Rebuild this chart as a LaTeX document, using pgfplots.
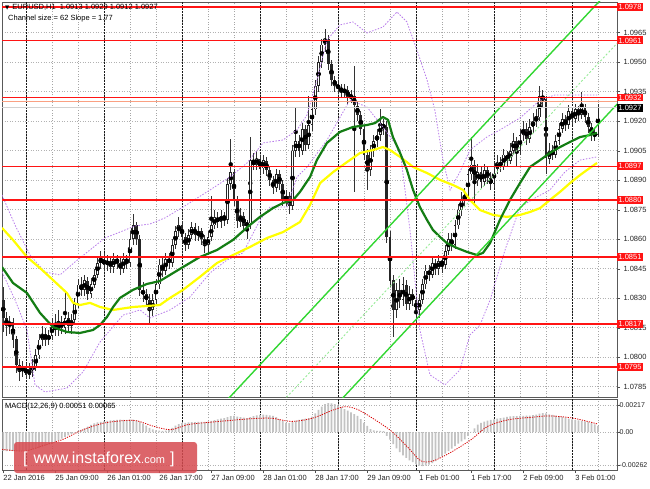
\documentclass[border=0pt]{standalone}
\usepackage{pgfplots}
\pgfplotsset{compat=1.18}
\usepackage{pgfplotstable}
\usepackage{fontspec}
\setmainfont{Liberation Sans}
\newfontfamily\dejavu{DejaVu Sans}

\definecolor{magreen}{RGB}{20,125,20}
\definecolor{mayellow}{RGB}{255,255,0}
\definecolor{chgreen}{RGB}{50,215,50}
\definecolor{chmid}{RGB}{150,235,150}
\definecolor{band}{RGB}{185,125,235}
\definecolor{histgray}{RGB}{195,195,195}
\definecolor{lvl}{RGB}{255,20,20}
\definecolor{salmon}{RGB}{250,160,130}
\definecolor{wmred}{RGB}{215,75,80}

% hourly candles, i = bar number (0 = 25 Jan 00:00)
\pgfplotstableread{
i o h l c
-7 1.0829 1.0836 1.0813 1.0820
-6 1.0820 1.0823 1.0811 1.0816
-5 1.0816 1.0821 1.0812 1.0818
-4 1.0818 1.0820 1.0805 1.0809
-3 1.0809 1.0811 1.0792 1.0796
-2 1.0796 1.0799 1.0788 1.0793
-1 1.0793 1.0798 1.0790 1.0795
0 1.0795 1.0797 1.0789 1.0791
1 1.0791 1.0797 1.0789 1.0794
2 1.0794 1.0799 1.0790 1.0795
3 1.0795 1.0804 1.0793 1.0801
4 1.0801 1.0812 1.0799 1.0809
5 1.0809 1.0816 1.0806 1.0812
6 1.0812 1.0815 1.0806 1.0809
7 1.0809 1.0814 1.0806 1.0811
8 1.0811 1.0820 1.0809 1.0816
9 1.0816 1.0822 1.0811 1.0814
10 1.0814 1.0824 1.0811 1.0818
11 1.0818 1.0821 1.0812 1.0815
12 1.0815 1.0833 1.0812 1.0820
13 1.0820 1.0823 1.0813 1.0816
14 1.0816 1.0822 1.0812 1.0819
15 1.0819 1.0830 1.0817 1.0827
16 1.0827 1.0840 1.0825 1.0837
17 1.0837 1.0841 1.0831 1.0834
18 1.0834 1.0842 1.0831 1.0839
19 1.0839 1.0841 1.0829 1.0832
20 1.0832 1.0840 1.0830 1.0837
21 1.0837 1.0845 1.0835 1.0842
22 1.0842 1.0851 1.0840 1.0848
23 1.0848 1.0854 1.0845 1.0850
24 1.0850 1.0853 1.0844 1.0847
25 1.0847 1.0852 1.0844 1.0849
26 1.0849 1.0851 1.0843 1.0846
27 1.0846 1.0853 1.0843 1.0850
28 1.0850 1.0852 1.0845 1.0848
29 1.0848 1.0851 1.0842 1.0845
30 1.0845 1.0853 1.0843 1.0850
31 1.0850 1.0852 1.0845 1.0848
32 1.0848 1.0864 1.0846 1.0860
33 1.0860 1.0873 1.0857 1.0867
34 1.0867 1.0869 1.0857 1.0860
35 1.0860 1.0862 1.0831 1.0834
36 1.0834 1.0838 1.0828 1.0832
37 1.0832 1.0835 1.0826 1.0829
38 1.0829 1.0832 1.0817 1.0824
39 1.0824 1.0832 1.0821 1.0829
40 1.0829 1.0840 1.0827 1.0837
41 1.0837 1.0850 1.0835 1.0847
42 1.0847 1.0851 1.0841 1.0844
43 1.0844 1.0853 1.0842 1.0850
44 1.0850 1.0853 1.0845 1.0848
45 1.0848 1.0860 1.0846 1.0857
46 1.0857 1.0867 1.0855 1.0864
47 1.0864 1.0871 1.0861 1.0867
48 1.0867 1.0869 1.0858 1.0861
49 1.0861 1.0863 1.0854 1.0857
50 1.0857 1.0865 1.0855 1.0862
51 1.0862 1.0869 1.0860 1.0866
52 1.0866 1.0868 1.0859 1.0862
53 1.0862 1.0867 1.0859 1.0864
54 1.0864 1.0866 1.0857 1.0860
55 1.0860 1.0862 1.0853 1.0857
56 1.0857 1.0864 1.0852 1.0861
57 1.0861 1.0882 1.0859 1.0867
58 1.0867 1.0875 1.0865 1.0871
59 1.0871 1.0874 1.0866 1.0869
60 1.0869 1.0875 1.0866 1.0872
61 1.0872 1.0874 1.0867 1.0870
62 1.0870 1.0891 1.0868 1.0888
63 1.0888 1.0911 1.0885 1.0894
64 1.0894 1.0896 1.0877 1.0880
65 1.0880 1.0882 1.0866 1.0869
66 1.0869 1.0876 1.0866 1.0872
67 1.0872 1.0874 1.0864 1.0867
68 1.0867 1.0870 1.0860 1.0868
69 1.0868 1.0912 1.0865 1.0900
70 1.0900 1.0904 1.0895 1.0898
71 1.0898 1.0905 1.0895 1.0901
72 1.0901 1.0903 1.0893 1.0896
73 1.0896 1.0903 1.0893 1.0900
74 1.0900 1.0902 1.0892 1.0895
75 1.0895 1.0897 1.0887 1.0890
76 1.0890 1.0892 1.0883 1.0886
77 1.0886 1.0896 1.0884 1.0893
78 1.0893 1.0895 1.0885 1.0888
79 1.0888 1.0890 1.0877 1.0880
80 1.0880 1.0885 1.0877 1.0882
81 1.0882 1.0884 1.0873 1.0877
82 1.0877 1.0908 1.0875 1.0905
83 1.0905 1.0927 1.0902 1.0910
84 1.0910 1.0913 1.0902 1.0905
85 1.0905 1.0919 1.0903 1.0916
86 1.0916 1.0918 1.0905 1.0908
87 1.0908 1.0933 1.0906 1.0918
88 1.0918 1.0930 1.0915 1.0926
89 1.0926 1.0941 1.0923 1.0938
90 1.0938 1.0953 1.0935 1.0950
91 1.0950 1.0962 1.0947 1.0959
92 1.0959 1.0967 1.0955 1.0962
93 1.0962 1.0964 1.0946 1.0949
94 1.0949 1.0951 1.0938 1.0941
95 1.0941 1.0943 1.0935 1.0938
96 1.0938 1.0941 1.0934 1.0937
97 1.0937 1.0939 1.0932 1.0935
98 1.0935 1.0939 1.0932 1.0936
99 1.0936 1.0938 1.0929 1.0932
100 1.0932 1.0936 1.0929 1.0933
101 1.0933 1.0948 1.0884 1.0928
102 1.0928 1.0930 1.0920 1.0923
103 1.0923 1.0925 1.0913 1.0916
104 1.0916 1.0918 1.0900 1.0903
105 1.0903 1.0906 1.0885 1.0895
106 1.0895 1.0908 1.0892 1.0905
107 1.0905 1.0913 1.0902 1.0910
108 1.0910 1.0916 1.0907 1.0913
109 1.0913 1.0926 1.0910 1.0918
110 1.0918 1.0921 1.0913 1.0917
111 1.0917 1.0920 1.0858 1.0861
112 1.0861 1.0864 1.0836 1.0839
113 1.0839 1.0842 1.0810 1.0824
114 1.0824 1.0838 1.0820 1.0834
115 1.0834 1.0840 1.0825 1.0829
116 1.0829 1.0841 1.0826 1.0837
117 1.0837 1.0839 1.0824 1.0827
118 1.0827 1.0836 1.0824 1.0832
119 1.0832 1.0835 1.0826 1.0829
120 1.0829 1.0831 1.0815 1.0824
121 1.0824 1.0832 1.0820 1.0829
122 1.0829 1.0840 1.0827 1.0837
123 1.0837 1.0847 1.0835 1.0844
124 1.0844 1.0847 1.0839 1.0842
125 1.0842 1.0851 1.0840 1.0848
126 1.0848 1.0850 1.0842 1.0845
127 1.0845 1.0852 1.0842 1.0849
128 1.0849 1.0851 1.0843 1.0847
129 1.0847 1.0857 1.0845 1.0854
130 1.0854 1.0863 1.0852 1.0860
131 1.0860 1.0863 1.0854 1.0857
132 1.0857 1.0870 1.0855 1.0867
133 1.0867 1.0878 1.0865 1.0875
134 1.0875 1.0884 1.0872 1.0880
135 1.0880 1.0886 1.0877 1.0882
136 1.0882 1.0896 1.0880 1.0893
137 1.0893 1.0912 1.0890 1.0898
138 1.0898 1.0900 1.0878 1.0890
139 1.0890 1.0898 1.0887 1.0894
140 1.0894 1.0897 1.0886 1.0889
141 1.0889 1.0898 1.0887 1.0895
142 1.0895 1.0897 1.0888 1.0891
143 1.0891 1.0894 1.0885 1.0888
144 1.0888 1.0899 1.0886 1.0896
145 1.0896 1.0903 1.0893 1.0899
146 1.0899 1.0902 1.0894 1.0897
147 1.0897 1.0906 1.0895 1.0903
148 1.0903 1.0905 1.0897 1.0900
149 1.0900 1.0909 1.0898 1.0905
150 1.0905 1.0914 1.0903 1.0910
151 1.0910 1.0912 1.0897 1.0905
152 1.0905 1.0916 1.0903 1.0913
153 1.0913 1.0920 1.0910 1.0916
154 1.0916 1.0919 1.0908 1.0911
155 1.0911 1.0921 1.0909 1.0917
156 1.0917 1.0924 1.0914 1.0920
157 1.0920 1.0926 1.0917 1.0922
158 1.0922 1.0938 1.0920 1.0933
159 1.0933 1.0936 1.0927 1.0931
160 1.0931 1.0933 1.0893 1.0901
161 1.0901 1.0909 1.0898 1.0905
162 1.0905 1.0908 1.0900 1.0903
163 1.0903 1.0913 1.0901 1.0910
164 1.0910 1.0919 1.0908 1.0916
165 1.0916 1.0924 1.0914 1.0921
166 1.0921 1.0923 1.0915 1.0918
167 1.0918 1.0928 1.0916 1.0925
168 1.0925 1.0927 1.0918 1.0921
169 1.0921 1.0929 1.0919 1.0926
170 1.0926 1.0928 1.0920 1.0923
171 1.0923 1.0935 1.0921 1.0927
172 1.0927 1.0929 1.0919 1.0922
173 1.0922 1.0924 1.0914 1.0917
174 1.0917 1.0919 1.0910 1.0914
175 1.0914 1.0916 1.0910 1.0913
176 1.0913 1.0929 1.0912 1.0927
}\candles

% MACD(12,26,9) main value, one per bar
\pgfplotstableread{
i v
-7 -0.00150
-6 -0.00152
-5 -0.00150
-4 -0.00151
-3 -0.00153
-2 -0.00152
-1 -0.00150
0 -0.00148
1 -0.00145
2 -0.00140
3 -0.00135
4 -0.00127
5 -0.00120
6 -0.00110
7 -0.00098
8 -0.00088
9 -0.00078
10 -0.00066
11 -0.00052
12 -0.00038
13 -0.00025
14 -0.00013
15 -0.00003
16 0.00008
17 0.00018
18 0.00030
19 0.00045
20 0.00058
21 0.00070
22 0.00078
23 0.00083
24 0.00087
25 0.00091
26 0.00094
27 0.00097
28 0.00099
29 0.00100
30 0.00099
31 0.00098
32 0.00100
33 0.00101
34 0.00095
35 0.00082
36 0.00068
37 0.00052
38 0.00035
39 0.00022
40 0.00015
41 0.00012
42 0.00010
43 0.00012
44 0.00020
45 0.00035
46 0.00052
47 0.00065
48 0.00072
49 0.00075
50 0.00078
51 0.00080
52 0.00081
53 0.00082
54 0.00083
55 0.00083
56 0.00085
57 0.00090
58 0.00096
59 0.00102
60 0.00108
61 0.00113
62 0.00120
63 0.00128
64 0.00130
65 0.00125
66 0.00120
67 0.00116
68 0.00113
69 0.00120
70 0.00128
71 0.00134
72 0.00138
73 0.00140
74 0.00138
75 0.00134
76 0.00130
77 0.00120
78 0.00105
79 0.00090
80 0.00075
81 0.00072
82 0.00082
83 0.00092
84 0.00098
85 0.00104
86 0.00108
87 0.00113
88 0.00125
89 0.00150
90 0.00178
91 0.00205
92 0.00225
93 0.00233
94 0.00230
95 0.00224
96 0.00215
97 0.00203
98 0.00185
99 0.00172
100 0.00158
101 0.00145
102 0.00130
103 0.00105
104 0.00075
105 0.00050
106 0.00025
107 0.00014
108 0.00010
109 0.00010
110 0.00008
111 -0.00030
112 -0.00060
113 -0.00095
114 -0.00130
115 -0.00160
116 -0.00185
117 -0.00205
118 -0.00225
119 -0.00240
120 -0.00255
121 -0.00268
122 -0.00272
123 -0.00268
124 -0.00260
125 -0.00248
126 -0.00232
127 -0.00210
128 -0.00190
129 -0.00172
130 -0.00152
131 -0.00132
132 -0.00112
133 -0.00092
134 -0.00073
135 -0.00058
136 -0.00030
137 0.00002
138 0.00030
139 0.00060
140 0.00075
141 0.00085
142 0.00092
143 0.00098
144 0.00103
145 0.00108
146 0.00112
147 0.00117
148 0.00122
149 0.00126
150 0.00128
151 0.00128
152 0.00130
153 0.00131
154 0.00132
155 0.00133
156 0.00136
157 0.00140
158 0.00148
159 0.00152
160 0.00150
161 0.00143
162 0.00138
163 0.00132
164 0.00128
165 0.00122
166 0.00116
167 0.00108
168 0.00102
169 0.00098
170 0.00094
171 0.00090
172 0.00087
173 0.00083
174 0.00074
175 0.00062
176 0.00051
}\macd

\pgfplotsset{
  mtfont/.style={font=\fontsize{7.5}{8}\selectfont},
  mtgrid/.style={
    scale only axis, width=615pt,
    xmin=-7.385, xmax=181.85,
    axis line style={black!65, line width=0.8pt},
    clip mode=individual,
    scaled y ticks=false,
    minor xtick={0,8,...,176},
    xminorgrids=true, xmajorgrids=false,
    minor tick length=0pt,
    minor x grid style={black!35, dash pattern=on 1pt off 1.6pt, line width=0.5pt},
    extra x ticks={0,24,48,72,96,120,144,168},
    extra x tick labels={},
    extra x tick style={grid=major, major tick length=0pt,
      major x grid style={black!90, dash pattern=on 1.6pt off 1.4pt, line width=0.6pt}},
    ytick pos=right, yticklabel pos=right,
    tick align=outside,
    y tick label style={mtfont, text=black!85},
    ymajorgrids=true,
    major y grid style={black!30, dash pattern=on 1pt off 1.6pt, line width=0.5pt},
    /pgf/number format/assume math mode=true,
  },
}

\begin{document}
\begin{tikzpicture}[x=1pt,y=1pt]
\useasboundingbox (0,0) rectangle (650,488);
\fill[white] (0,0) rectangle (650,488);

% ---------- price window ----------
\begin{axis}[mtgrid, at={(2pt,91pt)}, anchor=south west, height=395pt,
  ymin=1.077975, ymax=1.098054,
  xtick={-7,9,25,41,57,73,89,105,121,137,153,169},
  xticklabels={}, x tick style={draw=none},
  ytick={1.0785,1.0800,1.0815,1.0830,1.0845,1.0860,1.0875,1.0890,1.0905,1.0920,1.0935,1.0950,1.0965},
  y tick label style={/pgf/number format/fixed, /pgf/number format/fixed zerofill,
    /pgf/number format/precision=4},
  major tick length=3pt, y tick style={black!70},
  extra y ticks={1.0978,1.0961,1.0932,1.0897,1.0880,1.0851,1.0817,1.0795},
  extra y tick style={grid=none, major tick length=0pt,
    y tick label style={fill=lvl, text=white, inner sep=1.3pt}},
]
% candles: wicks, bodies, hollow centre of rising bars
\addplot[only marks, mark=none, error bars/.cd, y dir=both, y explicit, error mark=none,
  error bar style={line width=0.7pt, black!80}]
  table[x=i, y expr={(\thisrow{h}+\thisrow{l})/2}, y error expr={(\thisrow{h}-\thisrow{l})/2}] {\candles};
\addplot[only marks, mark=none, error bars/.cd, y dir=both, y explicit, error mark=none,
  error bar style={line width=2.6pt, black!85}]
  table[x=i, y expr={(\thisrow{o}+\thisrow{c})/2}, y error expr={abs(\thisrow{c}-\thisrow{o})/2}] {\candles};
\addplot[only marks, mark=none, error bars/.cd, y dir=both, y explicit, error mark=none,
  error bar style={line width=1pt, white}]
  table[x=i, y expr={(\thisrow{o}+\thisrow{c})/2}, y error expr={max((\thisrow{c}-\thisrow{o})/2-0.00004,0)}] {\candles};

% bands
\addplot[band, line width=0.8pt, dash pattern=on 1.5pt off 1.5pt] coordinates {
(-7.38,1.08824) (-3.38,1.08672) (1.23,1.08519) (5.85,1.08433) (10.46,1.08418) (15.08,1.08484)
(19.69,1.08545) (24.31,1.08606) (28.92,1.08636) (33.54,1.08667) (38.15,1.08677) (42.77,1.08708)
(48.31,1.08763) (56.62,1.08850) (62.77,1.08916) (68,1.08987) (72.92,1.09089) (79.08,1.09104)
(83.38,1.09155) (86.46,1.09231) (89.54,1.09409) (92.62,1.09612) (96.62,1.09689) (100.6,1.09704)
(104.9,1.09648) (109.8,1.09678) (114.15,1.09755) (117.2,1.09704) (120.3,1.09561) (123.4,1.09409)
(125.8,1.09256) (128.3,1.09002) (130.5,1.08850) (133.5,1.08941) (136.6,1.09053) (141.8,1.09119)
(145.8,1.09155) (152,1.09216) (158.2,1.09307) (162.8,1.09333) (168.9,1.09333) (175.7,1.09333)};
\addplot[band, line width=0.8pt, dash pattern=on 1.5pt off 1.5pt] coordinates {
(-7.38,1.08433) (-3.38,1.08291) (0.31,1.08138) (2.77,1.07859) (5.85,1.07823) (12.62,1.07843)
(17.54,1.07925) (22.77,1.08077) (29.85,1.08214) (35.08,1.08240) (38.15,1.08199) (44.31,1.08240)
(50.46,1.08306) (56.62,1.08428) (61.85,1.08494) (66.77,1.08530) (72,1.08697) (75.08,1.08763)
(80.31,1.08763) (83.38,1.08916) (86.46,1.08966) (92.62,1.09104) (99.69,1.09307) (104.9,1.09272)
(109.8,1.09170) (115.08,1.09053) (118.15,1.08647) (121.2,1.08138) (124.3,1.07910) (128.9,1.07859)
(133.5,1.07935) (136.6,1.08113) (139.7,1.08163) (142.8,1.08291) (147.4,1.08545) (152,1.08763)
(156.6,1.08809) (161.2,1.08850) (165.8,1.08941) (170.5,1.09002) (175.7,1.09018)};

% moving averages
\addplot[mayellow, line width=2.2pt, line join=round] coordinates {
(-7.38,1.08657) (-4,1.08596) (0.31,1.08509) (4.31,1.08453) (8.31,1.08392) (12.6,1.08326)
(14.5,1.08276) (16.6,1.08265) (19.7,1.08276) (22.8,1.08255) (26.8,1.08240) (32.9,1.08255)
(41.2,1.08265) (44.3,1.08301) (48.3,1.08342) (53.5,1.08408) (58.8,1.08479) (63.7,1.08519)
(68.9,1.08560) (74.2,1.08606) (79.1,1.08636) (84.3,1.08687) (87.4,1.08774) (90.5,1.08885)
(94.5,1.08941) (98.8,1.08992) (102.8,1.09038) (106.8,1.09053) (109.8,1.09068) (112,1.09053)
(115.1,1.09018) (119.1,1.08967) (123.4,1.08936) (127.4,1.08901) (131.4,1.08875) (134.5,1.08850)
(136.6,1.08799) (139.7,1.08748) (143.7,1.08723) (148,1.08713) (152,1.08723) (155.1,1.08738)
(158.2,1.08758) (161.2,1.08799) (164.3,1.08840) (167.4,1.08885) (170.5,1.08926) (173.5,1.08962)
(175.7,1.08987)};
\addplot[magreen, line width=2.2pt, line join=round] coordinates {
(-7.38,1.08458) (-4,1.08377) (0.31,1.08326) (4.31,1.08225) (8.31,1.08153) (12.6,1.08128)
(16.6,1.08123) (20.6,1.08138) (22.8,1.08164) (24.9,1.08204) (26.8,1.08255) (28.9,1.08301)
(32.9,1.08342) (37.2,1.08372) (41.2,1.08387) (44.3,1.08418) (48.3,1.08458) (53.5,1.08509)
(58.8,1.08545) (63.7,1.08596) (68.9,1.08672) (72,1.08713) (76,1.08758) (79.1,1.08784)
(82.2,1.08799) (84.3,1.08840) (87.4,1.08916) (89.5,1.09002) (92.6,1.09089) (96.6,1.09145)
(100.6,1.09170) (104.9,1.09180) (107.4,1.09190) (109.8,1.09221) (111.4,1.09206) (112.9,1.09119)
(115.1,1.09038) (117.2,1.08952) (119.1,1.08850) (121.2,1.08763) (123.4,1.08697) (125.2,1.08647)
(127.4,1.08611) (129.5,1.08580) (132.6,1.08555) (135.7,1.08535) (138.8,1.08519) (140.6,1.08530)
(142.8,1.08580) (145.8,1.08697) (148.9,1.08799) (152,1.08885) (155.1,1.08967) (158.2,1.09002)
(161.2,1.09038) (164.3,1.09068) (167.4,1.09094) (170.5,1.09119) (173.5,1.09129) (175.7,1.09140)};

% regression channel (62 pips wide, slope 1.77)
\addplot[chgreen, line width=1.4pt] coordinates {(50,1.07572) (182,1.09908)};
\addplot[chgreen, line width=1.4pt] coordinates {(88,1.07625) (182,1.09288)};
\addplot[chmid, line width=0.9pt, dash pattern=on 2pt off 2pt] coordinates {(60,1.07439) (182,1.09598)};

% levels
\addplot[black!18, line width=1.2pt] coordinates {(-7.385,1.0927) (181.85,1.0927)};
\addplot[salmon, line width=1.2pt] coordinates {(-7.385,1.0930) (181.85,1.0930)};
\addplot[lvl, line width=1.6pt] coordinates {(-7.385,1.0978) (181.85,1.0978)};
\addplot[lvl, line width=1.6pt] coordinates {(-7.385,1.0961) (181.85,1.0961)};
\addplot[lvl, line width=1.6pt] coordinates {(-7.385,1.0932) (181.85,1.0932)};
\addplot[lvl, line width=1.6pt] coordinates {(-7.385,1.0897) (181.85,1.0897)};
\addplot[lvl, line width=1.6pt] coordinates {(-7.385,1.0880) (181.85,1.0880)};
\addplot[lvl, line width=1.6pt] coordinates {(-7.385,1.0851) (181.85,1.0851)};
\addplot[lvl, line width=1.6pt] coordinates {(-7.385,1.0817) (181.85,1.0817)};
\addplot[lvl, line width=1.6pt] coordinates {(-7.385,1.0795) (181.85,1.0795)};

\node[fill=black, text=white, inner sep=1.3pt, anchor=west, font=\fontsize{7.5}{8}\selectfont]
  at (axis cs:181.85,1.09265) {1.0927};
\end{axis}

% ---------- MACD window ----------
\begin{axis}[mtgrid, at={(2pt,18pt)}, anchor=south west, height=71pt,
  ymin=-0.00302, ymax=0.00265,
  ytick={-0.00262,0,0.00217}, yticklabels={-0.00262,0.00,0.00217},
  y tick label style={font=\fontsize{7}{8}\selectfont, inner sep=0.5pt, xshift=-1pt},
  major tick length=3pt, tick style={black!70},
  xtick={-7,9,25,41,57,73,89,105,121,137,153,169},
  xticklabels={22 Jan 2016,25 Jan 09:00,26 Jan 01:00,26 Jan 17:00,27 Jan 09:00,28 Jan 01:00,
    28 Jan 17:00,29 Jan 09:00,1 Feb 01:00,1 Feb 17:00,2 Feb 09:00,3 Feb 01:00},
  x tick label style={mtfont, text=black!85, anchor=north west, inner sep=0pt, yshift=-2pt},
  xtick pos=bottom,
]
\addplot[ybar, bar width=1.9pt, fill=histgray, draw=none] table[x=i, y=v] {\macd};
\addplot[red!85!black, line width=0.8pt, dash pattern=on 1.2pt off 1.2pt, smooth] coordinates {
(-7.4,-0.00137) (-0.3,-0.00150) (4.8,-0.00110) (11.2,-0.00059) (17.6,0.00020) (24,0.00073)
(30.5,0.00093) (34.3,0.00090) (39.4,0.00046) (44.6,0.00020) (49.7,0.00060) (56,0.00078)
(62.5,0.00093) (68.9,0.00107) (75.3,0.00112) (81.7,0.00086) (88.2,0.00112) (94.6,0.00178)
(98.4,0.00204) (102.3,0.00178) (107.4,0.00099) (112.5,0.00007) (117.6,-0.00124) (121.5,-0.00229)
(125.3,-0.00229) (130.5,-0.00164) (137,-0.00059) (142,0.00046) (148.4,0.00099) (156.1,0.00120)
(161.2,0.00130) (168.4,0.00112) (176,0.00065)};
\end{axis}

% header texts
\node[anchor=west, inner sep=0pt, font=\fontsize{7.5}{8}\selectfont] at (5,481)
  {{\dejavu\fontsize{5.5}{6}\selectfont ▼}\hspace{3pt}EURUSD,H1\hspace{4pt}1.0913 1.0929 1.0912 1.0927};
\node[anchor=west, inner sep=0pt, font=\fontsize{7.5}{8}\selectfont] at (8,469)
  {Channel size = 62 Slope = 1.77};
\node[anchor=west, inner sep=0pt, font=\fontsize{7.5}{8}\selectfont] at (5,81)
  {MACD(12,26,9) 0.00051 0.00065};

% watermark
\fill[wmred, opacity=0.85, rounded corners=3pt] (14,15) rectangle (197,46);
\node[anchor=west, inner sep=0pt, text=white] at (23,29)
  {\fontsize{16}{16}\selectfont [\hspace{6pt}www.instaforex\fontsize{11}{11}\selectfont.com\fontsize{16}{16}\selectfont\hspace{5pt}]};
\end{tikzpicture}
\end{document}
